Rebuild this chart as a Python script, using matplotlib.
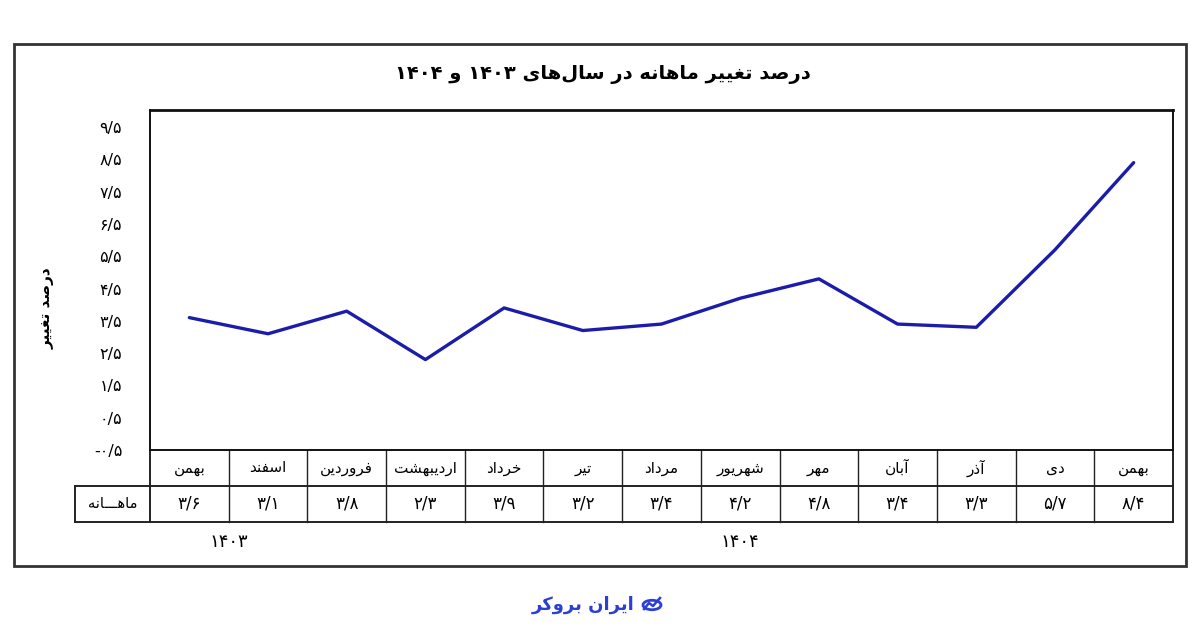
import re
import numpy as np
import matplotlib
matplotlib.use('Agg')
import matplotlib.pyplot as plt
import matplotlib.transforms as mtransforms
from matplotlib.patches import Rectangle, Circle
from matplotlib.lines import Line2D

# ---- data ----
months = ['بهمن', 'اسفند', 'فروردین', 'اردیبهشت', 'خرداد', 'تیر', 'مرداد',
          'شهریور', 'مهر', 'آبان', 'آذر', 'دی', 'بهمن']
values = [3.6, 3.1, 3.8, 2.3, 3.9, 3.2, 3.4, 4.2, 4.8, 3.4, 3.3, 5.7, 8.4]
yticks = np.arange(-0.5, 10, 1.0)
years = ['۱۴۰۳', '۱۴۰۴']
year_pos = [0.5, 7.0]   # centre of the columns each year covers

title = 'درصد تغییر ماهانه در سال‌های ۱۴۰۳ و ۱۴۰۴'
ylabel = 'درصد تغییر'
row_label = 'ماهـــانه'
brand = 'ایران بروکر'

# ---- minimal persian shaping (matplotlib does no arabic shaping) ----
FORMS = {
    'ا': ('\uFE8D', '\uFE8E', None, None),
    'آ': ('\uFE81', '\uFE82', None, None),
    'ب': ('\uFE8F', '\uFE90', '\uFE91', '\uFE92'),
    'پ': ('\uFB56', '\uFB57', '\uFB58', '\uFB59'),
    'ت': ('\uFE95', '\uFE96', '\uFE97', '\uFE98'),
    'ث': ('\uFE99', '\uFE9A', '\uFE9B', '\uFE9C'),
    'ج': ('\uFE9D', '\uFE9E', '\uFE9F', '\uFEA0'),
    'چ': ('\uFB7A', '\uFB7B', '\uFB7C', '\uFB7D'),
    'ح': ('\uFEA1', '\uFEA2', '\uFEA3', '\uFEA4'),
    'خ': ('\uFEA5', '\uFEA6', '\uFEA7', '\uFEA8'),
    'د': ('\uFEA9', '\uFEAA', None, None),
    'ذ': ('\uFEAB', '\uFEAC', None, None),
    'ر': ('\uFEAD', '\uFEAE', None, None),
    'ز': ('\uFEAF', '\uFEB0', None, None),
    'ژ': ('\uFB8A', '\uFB8B', None, None),
    'س': ('\uFEB1', '\uFEB2', '\uFEB3', '\uFEB4'),
    'ش': ('\uFEB5', '\uFEB6', '\uFEB7', '\uFEB8'),
    'ص': ('\uFEB9', '\uFEBA', '\uFEBB', '\uFEBC'),
    'ض': ('\uFEBD', '\uFEBE', '\uFEBF', '\uFEC0'),
    'ط': ('\uFEC1', '\uFEC2', '\uFEC3', '\uFEC4'),
    'ظ': ('\uFEC5', '\uFEC6', '\uFEC7', '\uFEC8'),
    'ع': ('\uFEC9', '\uFECA', '\uFECB', '\uFECC'),
    'غ': ('\uFECD', '\uFECE', '\uFECF', '\uFED0'),
    'ف': ('\uFED1', '\uFED2', '\uFED3', '\uFED4'),
    'ق': ('\uFED5', '\uFED6', '\uFED7', '\uFED8'),
    'ک': ('\uFB8E', '\uFB8F', '\uFB90', '\uFB91'),
    'گ': ('\uFB92', '\uFB93', '\uFB94', '\uFB95'),
    'ل': ('\uFEDD', '\uFEDE', '\uFEDF', '\uFEE0'),
    'م': ('\uFEE1', '\uFEE2', '\uFEE3', '\uFEE4'),
    'ن': ('\uFEE5', '\uFEE6', '\uFEE7', '\uFEE8'),
    'ه': ('\uFEE9', '\uFEEA', '\uFEEB', '\uFEEC'),
    'و': ('\uFEED', '\uFEEE', None, None),
    'ی': ('\uFBFC', '\uFBFD', '\uFBFE', '\uFBFF'),
    'ـ': ('ـ', 'ـ', 'ـ', 'ـ'),
}


def fa(text):
    out = []
    for i, c in enumerate(text):
        if c not in FORMS:
            out.append(c)
            continue
        prev = text[i - 1] if i > 0 else None
        nxt = text[i + 1] if i + 1 < len(text) else None
        f = FORMS[c]
        jp = prev in FORMS and FORMS[prev][2] is not None
        jn = f[2] is not None and nxt in FORMS
        if jp and jn:
            out.append(f[3])
        elif jp:
            out.append(f[1])
        elif jn:
            out.append(f[2])
        else:
            out.append(f[0])
    s = ''.join(out).replace('\u200c', '')[::-1]
    # digit runs stay left-to-right
    return re.sub(r'[0-9۰-۹/.]+', lambda m: m.group()[::-1], s)


def fa_num(v, fmt='{:.1f}'):
    txt = fmt.format(abs(v)).replace('.', '/').translate(str.maketrans('0123456789', '۰۱۲۳۴۵۶۷۸۹'))
    return ('-' if v < 0 else '') + txt


plt.rcParams['font.family'] = ['DejaVu Sans']

fig = plt.figure(figsize=(12, 6.3), dpi=100)
ax = fig.add_axes([150 / 1200, 1 - 450 / 630, 1023 / 1200, 340 / 630])

x = np.arange(len(values))
ax.plot(x, values, color='#1c1caa', lw=2.4, solid_capstyle='round')

ax.set_xlim(-0.5, len(values) - 0.5)
ax.set_ylim(-0.5, 10.03)
ax.set_xticks([])
ax.set_yticks(yticks)
ax.set_yticklabels([fa_num(t) for t in yticks], fontsize=11.5)
ax.tick_params(axis='y', length=0, pad=20)
for s in ax.spines.values():
    s.set_linewidth(1.4)
    s.set_color('#111111')
ax.spines['top'].set_linewidth(2)

# ---- table under the plot ----
tr = mtransforms.blended_transform_factory(ax.transData, ax.transAxes)
h = 36 / 340
left = -0.5 - 75 / (1023 / 13)
n = len(values)
lc = '#222222'
ax.add_line(Line2D([left, n - 0.5], [-h, -h], transform=tr, color=lc, lw=1.4, clip_on=False))
ax.add_line(Line2D([left, n - 0.5], [-2 * h, -2 * h], transform=tr, color=lc, lw=1.4, clip_on=False))
ax.add_line(Line2D([left, left], [-2 * h, -h], transform=tr, color=lc, lw=1.4, clip_on=False))
for k in range(n + 1):
    ax.add_line(Line2D([k - 0.5, k - 0.5], [-2 * h, 0], transform=tr, color=lc,
                       lw=1.4 if k in (0, n) else 1.0, clip_on=False))
for i in range(n):
    ax.text(i, -h / 2, fa(months[i]), transform=tr, ha='center', va='center', fontsize=11)
    ax.text(i, -1.5 * h, fa_num(values[i]), transform=tr, ha='center', va='center', fontsize=12)
ax.text((left - 0.5) / 2, -1.5 * h, fa(row_label), transform=tr, ha='center', va='center', fontsize=10.5)
for yp, yl in zip(year_pos, years):
    ax.text(yp, -2 * h - 0.06, yl, transform=tr, ha='center', va='center', fontsize=13)

# ---- titles ----
fig.text(603 / 1200, 1 - 74 / 630, fa(title), ha='center', va='center', fontsize=14, fontweight='bold')
fig.text(47 / 1200, 1 - 308 / 630, fa(ylabel), ha='center', va='center', rotation=90,
         fontsize=11, fontweight='bold')

# outer frame
fig.add_artist(Rectangle((14 / 1200, 1 - 566 / 630), 1172 / 1200, 522 / 630,
                         transform=fig.transFigure, fill=False, lw=2, ec='#333333'))

# brand mark
blue = '#2b3fd6'
fig.text(583 / 1200, 1 - 605 / 630, fa(brand), ha='center', va='center', fontsize=13,
         fontweight='bold', color=blue)
fig.add_artist(Circle((652 / 1200, 1 - 605 / 630), 0.0075, transform=fig.transFigure,
                      fill=False, ec=blue, lw=2))
fig.add_artist(Line2D(np.array([644, 649, 653, 660]) / 1200, 1 - np.array([609, 603, 606, 598]) / 630,
                      transform=fig.transFigure, color=blue, lw=1.8))

fig.savefig('out.png', dpi=100, facecolor='white')
